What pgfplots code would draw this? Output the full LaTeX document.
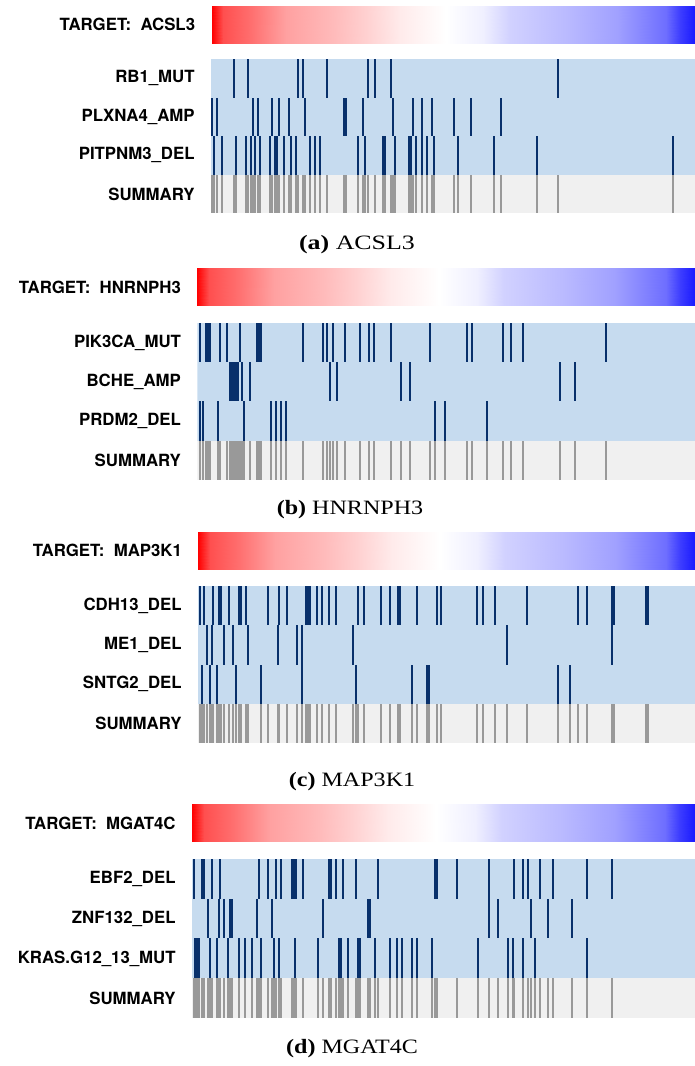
\documentclass[border=0pt]{standalone}
\usepackage{fontspec}
\setmainfont{Liberation Serif}
\newfontfamily\hv{TeX Gyre Heros}
\usepackage{pgfplots}
\usepackage{pgfplotstable}
\pgfplotsset{compat=1.18}
\usepackage{xcolor}

\definecolor{bgblue}{RGB}{198,219,239}
\definecolor{navy}{RGB}{8,48,107}
\definecolor{sumbg}{RGB}{240,240,240}
\definecolor{sumln}{RGB}{153,153,153}

\newcommand{\lab}{\hv\bfseries\fontsize{8.4}{10}\selectfont}
\newcommand{\capfont}{\fontsize{10.2}{12}\selectfont}

% target gradient (x as fraction of bar, c = colour value)
\pgfplotstableread{
x y z c
0 0 0 -1
0.024 0 0 -0.69
0.079 0 0 -0.57
0.155 0 0 -0.37
0.252 0 0 -0.27
0.321 0 0 -0.18
0.39 0 0 -0.08
0.486 0 0 0
0.562 0 0 0.06
0.617 0 0 0.18
0.734 0 0 0.27
0.838 0 0 0.37
0.941 0 0 0.57
0.969 0 0 0.76
1 0 0 0.9
0 1 0 -1
0.024 1 0 -0.69
0.079 1 0 -0.57
0.155 1 0 -0.37
0.252 1 0 -0.27
0.321 1 0 -0.18
0.39 1 0 -0.08
0.486 1 0 0
0.562 1 0 0.06
0.617 1 0 0.18
0.734 1 0 0.27
0.838 1 0 0.37
0.941 1 0 0.57
0.969 1 0 0.76
1 1 0 0.9
}\gradtab

% event positions: x in pixels of the original figure, e = event present
% (a) ACSL3
\pgfplotstableread[row sep=\\]{x e\\ 234 1\\ 248 1\\ 298 1\\ 303 1\\ 327 1\\ 368 1\\ 375 1\\ 391 1\\ 558 1\\}\aA
\pgfplotstableread[row sep=\\]{x e\\ 212 1\\ 217 1\\ 253 1\\ 258 1\\ 272 1\\ 279 1\\ 289 1\\ 305 1\\ 344 1\\ 346 1\\
  363 1\\ 393 1\\ 413 1\\ 422 1\\ 432 1\\ 454 1\\ 471 1\\ 501 1\\}\aB
\pgfplotstableread[row sep=\\]{x e\\ 214 1\\ 222 1\\ 236 1\\ 246 1\\ 251 1\\ 255 1\\ 260 1\\ 270 1\\ 275.3 1\\ 277.3 1\\
  284 1\\ 291 1\\ 296 1\\ 310 1\\ 315 1\\ 320 1\\ 358 1\\ 365 1\\ 382.5 1\\ 384.5 1\\ 395 1\\ 409 1\\ 411 1\\
  416 1\\ 422 1\\ 427 1\\ 434 1\\ 458 1\\ 494 1\\ 537 1\\ 673 1\\}\aC
% (b) HNRNPH3
\pgfplotstableread[row sep=\\]{x e\\ 200 1\\ 206 1\\ 208 1\\ 210 1\\ 220 1\\ 227 1\\ 240 1\\ 257 1\\ 259 1\\ 261 1\\
  303 1\\ 323 1\\ 327 1\\ 333 1\\ 345 1\\ 360 1\\ 369 1\\ 374 1\\ 391 1\\ 430 1\\ 467 1\\ 472 1\\ 503 1\\
  511 1\\ 523 1\\ 606 1\\}\bA
\pgfplotstableread[row sep=\\]{x e\\ 230 1\\ 232 1\\ 234 1\\ 236 1\\ 238 1\\ 242 1\\ 250 1\\ 330 1\\ 337 1\\ 401 1\\
  410 1\\ 560 1\\ 575 1\\}\bB
\pgfplotstableread[row sep=\\]{x e\\ 200 1\\ 203 1\\ 218 1\\ 244 1\\ 271 1\\ 276 1\\ 281 1\\ 286 1\\ 435 1\\ 445 1\\
  487 1\\}\bC
% (c) MAP3K1
\pgfplotstableread[row sep=\\]{x e\\ 199.5 1\\ 204 1\\ 213 1\\ 219 1\\ 221 1\\ 229 1\\ 239 1\\ 241 1\\ 246 1\\ 268 1\\
  279 1\\ 287 1\\ 305.5 1\\ 307.5 1\\ 309.5 1\\ 317 1\\ 322 1\\ 329 1\\ 336 1\\ 358 1\\ 364 1\\ 381 1\\
  390 1\\ 398 1\\ 400 1\\ 417 1\\ 437 1\\ 441 1\\ 477 1\\ 483 1\\ 495 1\\ 527 1\\ 578 1\\ 587 1\\ 612 1\\
  614 1\\ 646 1\\ 648 1\\}\cA
\pgfplotstableread[row sep=\\]{x e\\ 207 1\\ 212 1\\ 224 1\\ 233 1\\ 248 1\\ 278 1\\ 297 1\\ 302 1\\ 353 1\\ 507 1\\
  612 1\\}\cB
\pgfplotstableread[row sep=\\]{x e\\ 202 1\\ 210 1\\ 217 1\\ 236 1\\ 261 1\\ 302 1\\ 356 1\\ 412 1\\ 427 1\\ 429 1\\
  558 1\\ 570 1\\}\cC
% (d) MGAT4C
\pgfplotstableread[row sep=\\]{x e\\ 194 1\\ 202.5 1\\ 204.5 1\\ 212 1\\ 220 1\\ 259 1\\ 268 1\\ 276 1\\ 281 1\\
  292 1\\ 294 1\\ 296 1\\ 303 1\\ 329 1\\ 331 1\\ 336 1\\ 343 1\\ 356 1\\ 378 1\\ 434.5 1\\ 436.5 1\\
  457 1\\ 489 1\\ 514 1\\ 523 1\\ 528 1\\ 540 1\\ 553 1\\ 587 1\\ 612 1\\}\dA
\pgfplotstableread[row sep=\\]{x e\\ 208 1\\ 219 1\\ 224 1\\ 230 1\\ 232 1\\ 257 1\\ 272 1\\ 323 1\\ 368 1\\ 370 1\\
  489 1\\ 498 1\\ 531 1\\ 548 1\\ 572 1\\}\dB
\pgfplotstableread[row sep=\\]{x e\\ 195 1\\ 197 1\\ 199 1\\ 210 1\\ 217 1\\ 228 1\\ 239 1\\ 245 1\\ 252 1\\ 261 1\\
  274 1\\ 279 1\\ 295 1\\ 317.5 1\\ 339 1\\ 341 1\\ 348 1\\ 358 1\\ 360 1\\ 375 1\\ 390 1\\ 397 1\\
  402 1\\ 412 1\\ 417 1\\ 432 1\\ 478 1\\ 508 1\\ 513 1\\ 523 1\\ 535 1\\ 587 1\\}\dC

\pgfplotsset{
  hm/.style={scale only axis, anchor=south west, xmax=695, ymin=0, ymax=4,
    axis line style={draw=none}, xtick=\empty, ytick={0.5,1.5,2.5,3.5},
    major tick length=0pt,
    yticklabel style={font=\lab, inner sep=0pt, xshift=-8pt}},
  gr/.style={scale only axis, anchor=south west, view={0}{90},
    xmin=0, xmax=1, ymin=0, ymax=1, hide axis, clip=false,
    colormap={rwb}{rgb255=(255,0,0) rgb255=(255,255,255) rgb255=(0,0,255)},
    point meta min=-1, point meta max=1},
}

% one row of event lines, centred on row #2
\newcommand{\evlines}[3]{\addplot[draw=none, mark=none,
  error bars/.cd, y dir=both, y fixed=0.5, error mark=none,
  error bar style={draw=#3, line width=1pt}] table[x=x, y expr=#2*\thisrow{e}] {#1};}

\newcommand{\hmrows}[4]{%
  \addplot[fill=bgblue, draw=none] coordinates {(#4,1) (695,1) (695,4) (#4,4)} -- cycle;
  \addplot[fill=sumbg, draw=none] coordinates {(#4,0) (695,0) (695,1) (#4,1)} -- cycle;
  \evlines{#1}{3.5}{navy}
  \evlines{#2}{2.5}{navy}
  \evlines{#3}{1.5}{navy}
  \evlines{#1}{0.5}{sumln}
  \evlines{#2}{0.5}{sumln}
  \evlines{#3}{0.5}{sumln}
}

\newcommand{\gradplot}[1]{%
  \addplot3[surf, shader=interp, mesh/rows=2, mesh/cols=15, point meta=\thisrow{c}]
    table[x=x, y=y, z=z] {\gradtab};
  \node[anchor=east, font=\lab, inner sep=0pt, xshift=-8pt] at (axis cs:0,0.5,0) {#1};
}

\begin{document}
\begin{tikzpicture}
\useasboundingbox (0,0) rectangle (347.5pt,533pt);

% ---- (a) ACSL3
\begin{axis}[gr, at={(105.75pt,511.35pt)}, width=241.75pt, height=18.65pt]
\gradplot{TARGET:\ \ ACSL3}
\end{axis}
\begin{axis}[hm, at={(105.5pt,426.35pt)}, width=242pt, height=77.15pt, xmin=211,
  yticklabels={SUMMARY,PITPNM3\_DEL,PLXNA4\_AMP,RB1\_MUT}]
\hmrows{\aA}{\aB}{\aC}{211}
\end{axis}
\node[font=\capfont, xscale=1.27] at (178.5pt,410.5pt) {\textbf{(a)} ACSL3};

% ---- (b) HNRNPH3
\begin{axis}[gr, at={(98.65pt,380pt)}, width=248.85pt, height=18.85pt]
\gradplot{TARGET:\ \ HNRNPH3}
\end{axis}
\begin{axis}[hm, at={(98.65pt,292.85pt)}, width=248.85pt, height=78.8pt, xmin=197.3,
  yticklabels={SUMMARY,PRDM2\_DEL,BCHE\_AMP,PIK3CA\_MUT}]
\hmrows{\bA}{\bB}{\bC}{197.3}
\end{axis}
\node[font=\capfont, xscale=1.18] at (175pt,278pt) {\textbf{(b)} HNRNPH3};

% ---- (c) MAP3K1
\begin{axis}[gr, at={(99.15pt,248.35pt)}, width=248.35pt, height=18.8pt]
\gradplot{TARGET:\ \ MAP3K1}
\end{axis}
\begin{axis}[hm, at={(99pt,161.35pt)}, width=248.5pt, height=78.65pt, xmin=198,
  yticklabels={SUMMARY,SNTG2\_DEL,ME1\_DEL,CDH13\_DEL}]
\hmrows{\cA}{\cB}{\cC}{198}
\end{axis}
\node[font=\capfont, xscale=1.18] at (176pt,142.3pt) {\textbf{(c)} MAP3K1};

% ---- (d) MGAT4C
\begin{axis}[gr, at={(96pt,112pt)}, width=251.5pt, height=19pt]
\gradplot{TARGET:\ \ MGAT4C}
\end{axis}
\begin{axis}[hm, at={(96pt,24pt)}, width=251.5pt, height=79.5pt, xmin=192,
  yticklabels={SUMMARY,KRAS.G12\_13\_MUT,ZNF132\_DEL,EBF2\_DEL}]
\hmrows{\dA}{\dB}{\dC}{192}
\end{axis}
\node[font=\capfont, xscale=1.18] at (176pt,8.5pt) {\textbf{(d)} MGAT4C};
\end{tikzpicture}
\end{document}
